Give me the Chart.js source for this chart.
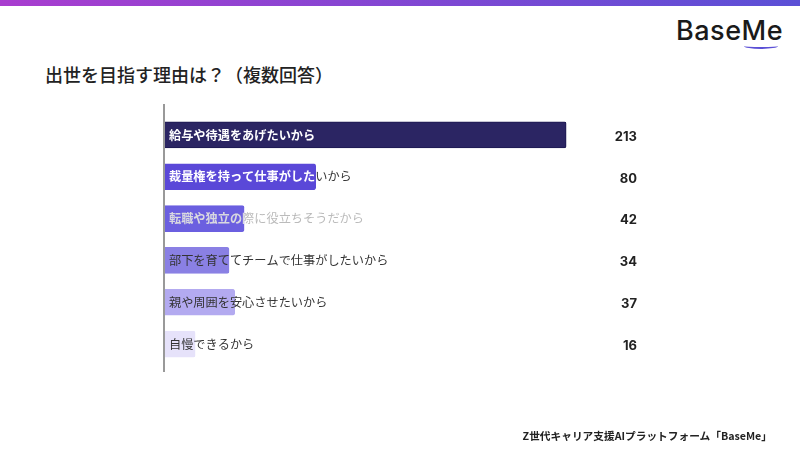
<!DOCTYPE html>
<html lang="ja">
<head>
<meta charset="utf-8">
<script src="https://cdn.jsdelivr.net/npm/chart.js@4.4.1/dist/chart.umd.min.js"></script>
<style>
  html, body { margin: 0; padding: 0; background: #fff; }
  #wrap { position: relative; width: 800px; height: 450px; overflow: hidden; font-family: "Noto Sans CJK JP", "Noto Sans", sans-serif; }
  #topbar { position: absolute; left: 0; top: 0; width: 800px; height: 6px; background: linear-gradient(90deg, #a93dcf, #5b50d6); }
  #logo { position: absolute; right: 17px; top: 14px; font-family: Inter, "Open Sans", sans-serif; font-size: 27px; font-weight: 500; color: #1a1a1a; letter-spacing: 0.5px; }
  #logo .swoosh { position: absolute; left: 68px; top: 29px; width: 34px; height: 4px; border-radius: 0 0 50% 50%; border-bottom: 2px solid #5b50d6; }
  #title { position: absolute; left: 45px; top: 61px; font-size: 18px; font-weight: 500; color: #222; }
  #footer { position: absolute; right: 28px; top: 428px; font-size: 10.7px; font-weight: bold; color: #222; }
  canvas { position: absolute; left: 0; top: 0; }
</style>
</head>
<body>
<div id="wrap">
  <div id="topbar"></div>
  <div id="logo">BaseMe<span class="swoosh"></span></div>
  <div id="title">出世を目指す理由は？（複数回答）</div>
  <canvas id="chart" width="800" height="450"></canvas>
  <div id="footer">Z世代キャリア支援AIプラットフォーム「BaseMe」</div>
</div>
<script>
  // data
  const categories = [
    "給与や待遇をあげたいから",
    "裁量権を持って仕事がしたいから",
    "転職や独立の際に役立ちそうだから",
    "部下を育ててチームで仕事がしたいから",
    "親や周囲を安心させたいから",
    "自慢できるから"
  ];
  const counts = [213, 80, 42, 34, 37, 16];

  // styling
  const barColors = ["#2b2563", "#5a48d8", "#6b5fe0", "#8a80e4", "#b3aaf0", "#e6e2fa"];
  const borderColors = ["#1c1850", "#5a48d8", "#6b5fe0", "#8a80e4", "#b3aaf0", "#e6e2fa"];
  const textInside = ["#ffffff", "#ffffff", "#d8d8e0", "#333333", "#333333", "#333333"];
  const textOutside = ["#ffffff", "#333333", "#bbbbbb", "#333333", "#333333", "#333333"];

  const labelFont = '12.2px "Noto Sans CJK JP", sans-serif';

  // draws category text over bars and counts on the right
  const labelPlugin = {
    id: 'barLabels',
    afterDatasetsDraw(chart) {
      const ctx = chart.ctx;
      const area = chart.chartArea;
      const meta = chart.getDatasetMeta(0);

      // axis line
      ctx.save();
      ctx.strokeStyle = '#777';
      ctx.lineWidth = 1.5;
      ctx.beginPath();
      ctx.moveTo(area.left - 1, area.top - 10);
      ctx.lineTo(area.left - 1, area.bottom + 7);
      ctx.stroke();
      ctx.restore();

      meta.data.forEach((bar, i) => {
        const y = bar.y;
        const x0 = area.left + 4;
        ctx.save();
        ctx.textBaseline = 'middle';
        ctx.textAlign = 'left';
        // part inside bar
        ctx.save();
        ctx.beginPath();
        ctx.rect(area.left, y - 20, bar.x - area.left, 40);
        ctx.clip();
        ctx.font = (i < 3 ? 'bold ' : '') + labelFont;
        ctx.fillStyle = textInside[i];
        ctx.fillText(categories[i], x0, y);
        ctx.restore();
        // part outside bar
        ctx.save();
        ctx.beginPath();
        ctx.rect(bar.x, y - 20, 800, 40);
        ctx.clip();
        ctx.font = (i === 0 ? 'bold ' : '') + labelFont;
        ctx.fillStyle = textOutside[i];
        ctx.fillText(categories[i], x0, y);
        ctx.restore();

        // count
        ctx.font = 'bold 13px Inter, "Noto Sans", sans-serif';
        ctx.fillStyle = '#222';
        ctx.textAlign = 'right';
        ctx.fillText(String(counts[i]), 637, y + 2);
        ctx.restore();
      });
    }
  };

  new Chart(document.getElementById('chart'), {
    type: 'bar',
    data: {
      labels: categories,
      datasets: [{
        data: counts,
        backgroundColor: barColors,
        borderColor: borderColors,
        borderWidth: 1,
        borderSkipped: 'left',
        borderRadius: 2,
        barThickness: 26
      }]
    },
    options: {
      indexAxis: 'y',
      responsive: false,
      animation: false,
      layout: { padding: { left: 165, right: 183, top: 114, bottom: 85 } },
      scales: {
        x: { display: false, min: 0, max: 240 },
        y: { display: false }
      },
      plugins: {
        legend: { display: false },
        tooltip: { enabled: false }
      }
    },
    plugins: [labelPlugin]
  });
</script>
</body>
</html>
